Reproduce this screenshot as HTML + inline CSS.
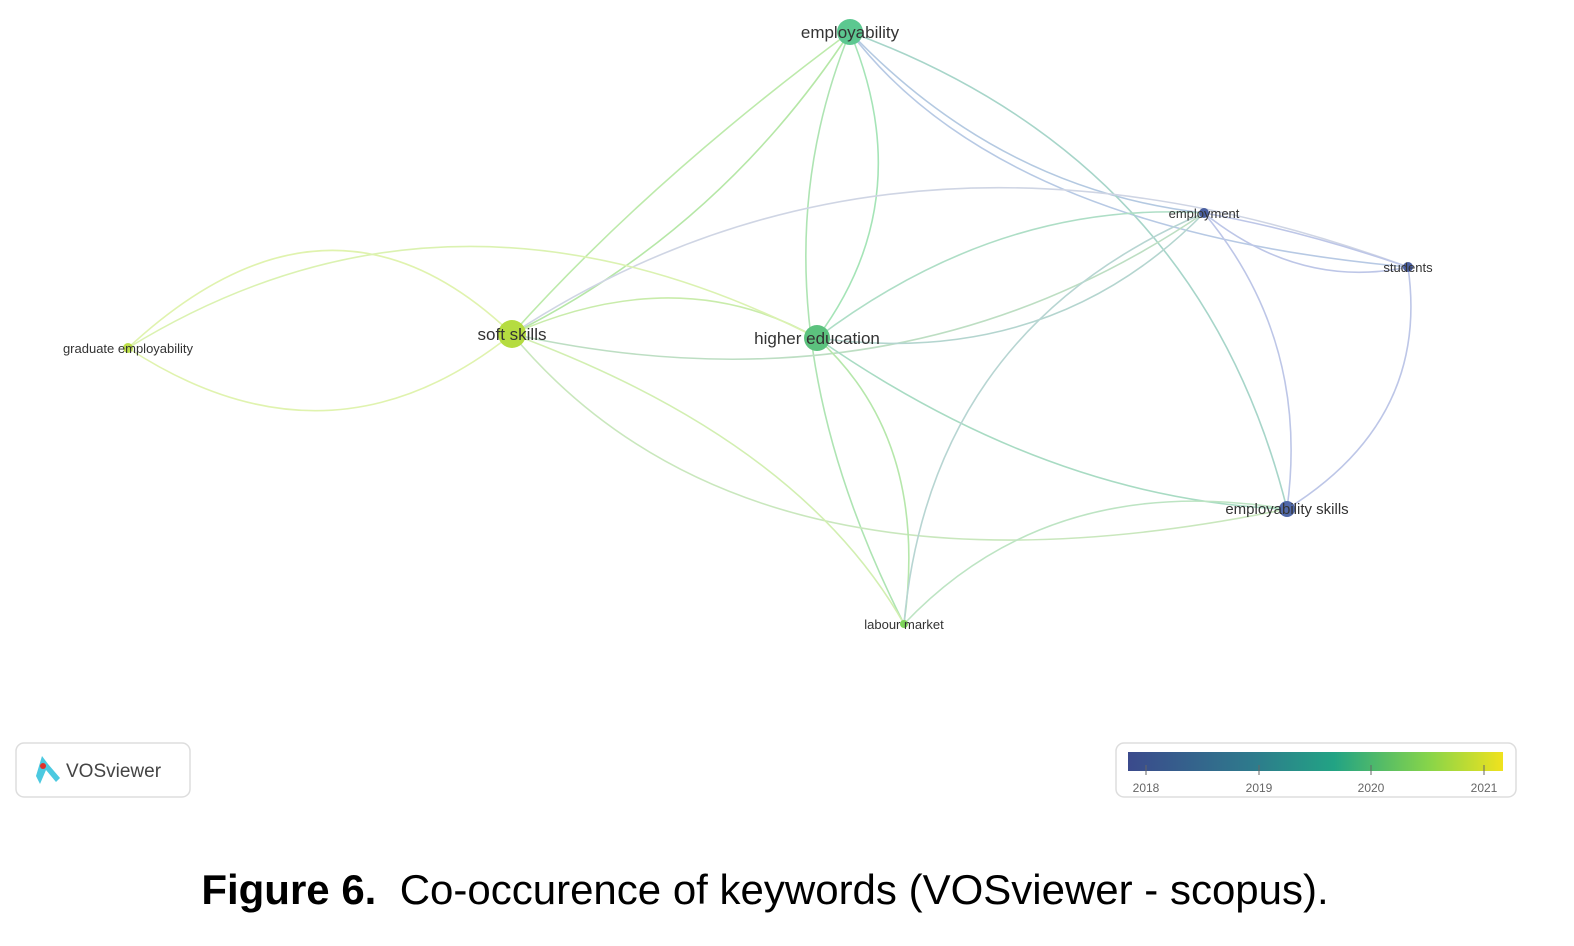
<!DOCTYPE html>
<html><head><meta charset="utf-8"><style>
body{margin:0;background:#fff;width:1574px;height:946px;overflow:hidden;font-family:"Liberation Sans",sans-serif}
svg{position:absolute;left:0;top:0}
.cap{position:absolute;left:0;width:1530px;top:866px;text-align:center;font-size:42px;color:#000;padding-left:0}
</style></head><body>
<svg width="1574" height="946" viewBox="0 0 1574 946">
<defs><linearGradient id="vg" x1="0" x2="1"><stop offset="0" stop-color="#3b4a8c"/><stop offset="0.33" stop-color="#2e7a8c"/><stop offset="0.55" stop-color="#22a384"/><stop offset="0.8" stop-color="#86d44a"/><stop offset="1" stop-color="#f0e21e"/></linearGradient></defs>
<g fill="none" stroke-width="1.6" opacity="0.75">
<path d="M850 32 Q720 230 512 334" stroke="#9ee08a"/>
<path d="M850 32 Q920 200 817 338" stroke="#88dca0"/>
<path d="M850 32 Q740 300 904 624" stroke="#94dc9a"/>
<path d="M850 32 Q1000 190 1204 213" stroke="#9bb8d8"/>
<path d="M850 32 Q1000 230 1408 267" stroke="#9fb8dc"/>
<path d="M850 32 Q1200 160 1287 509" stroke="#8ac8b8"/>
<path d="M850 32 Q650 180 512 334" stroke="#a8e490"/>
<path d="M512 334 Q330 160 128 348" stroke="#d6ef94"/>
<path d="M512 334 Q330 480 128 348" stroke="#d6ef94"/>
<path d="M512 334 Q680 260 817 338" stroke="#b8e690"/>
<path d="M512 334 Q900 80 1408 267" stroke="#c0c8dc"/>
<path d="M512 334 Q900 420 1204 213" stroke="#a8d4b0"/>
<path d="M512 334 Q750 620 1287 509" stroke="#b8e0a8"/>
<path d="M512 334 Q800 440 904 624" stroke="#c4ea98"/>
<path d="M128 348 Q450 150 817 338" stroke="#d0ee98"/>
<path d="M817 338 Q1000 200 1204 213" stroke="#94d4b4"/>
<path d="M817 338 Q1050 500 1287 509" stroke="#8cd0b0"/>
<path d="M817 338 Q930 440 904 624" stroke="#9ee090"/>
<path d="M817 338 Q1050 370 1204 213" stroke="#9cc8c0"/>
<path d="M1204 213 Q1300 230 1408 267" stroke="#a8b4e0"/>
<path d="M1204 213 Q1300 290 1408 267" stroke="#a8b4e0"/>
<path d="M1204 213 Q1310 340 1287 509" stroke="#a8b4e0"/>
<path d="M1204 213 Q930 330 904 624" stroke="#a0c8c4"/>
<path d="M1408 267 Q1430 420 1287 509" stroke="#a8b4e0"/>
<path d="M904 624 Q1050 470 1287 509" stroke="#a8dcb0"/>
</g>
<circle cx="850" cy="32" r="13" fill="#5cc890"/>
<circle cx="817" cy="338" r="13" fill="#5cc27e"/>
<circle cx="512" cy="334" r="14" fill="#b5dc40"/>
<circle cx="128" cy="348" r="5" fill="#bde04a"/>
<circle cx="1204" cy="213" r="5" fill="#4a5fa0"/>
<circle cx="1408" cy="267" r="5" fill="#4a5fa0"/>
<circle cx="1287" cy="509" r="8" fill="#5068a8"/>
<circle cx="904" cy="624" r="4" fill="#7dd35a"/>
<g fill="#333" font-family="Liberation Sans, sans-serif" text-anchor="middle">
<text x="850" y="38" font-size="17">employability</text>
<text x="817" y="344" font-size="17">higher education</text>
<text x="512" y="340" font-size="17">soft skills</text>
<text x="128" y="353" font-size="13">graduate employability</text>
<text x="1204" y="218" font-size="13">employment</text>
<text x="1408" y="272" font-size="13">students</text>
<text x="1287" y="514" font-size="15">employability skills</text>
<text x="904" y="629" font-size="13">labour market</text>
</g>
<rect x="16" y="743" width="174" height="54" rx="8" fill="#fff" stroke="#ddd" stroke-width="1.5"/>
<path d="M42 756 L36 776 L40 784 L46 770 L56 782 L60 778 L48 764 Z" fill="#4cc9e0"/>
<circle cx="43" cy="766" r="3" fill="#e0302a"/>
<text x="66" y="777" font-size="19" fill="#444" font-family="Liberation Sans, sans-serif">VOSviewer</text>
<rect x="1116" y="743" width="400" height="54" rx="8" fill="#fff" stroke="#ddd" stroke-width="1.5"/>
<rect x="1128" y="752" width="375" height="19" fill="url(#vg)"/>
<g stroke="#666" stroke-width="1"><line x1="1146" y1="765" x2="1146" y2="775"/><line x1="1259" y1="765" x2="1259" y2="775"/><line x1="1371" y1="765" x2="1371" y2="775"/><line x1="1484" y1="765" x2="1484" y2="775"/></g>
<g font-size="12" fill="#666" text-anchor="middle" font-family="Liberation Sans, sans-serif">
<text x="1146" y="792">2018</text><text x="1259" y="792">2019</text><text x="1371" y="792">2020</text><text x="1484" y="792">2021</text></g>
</svg>
<div class="cap"><b>Figure 6.</b>&nbsp; Co-occurence of keywords (VOSviewer - scopus).</div>
</body></html>
